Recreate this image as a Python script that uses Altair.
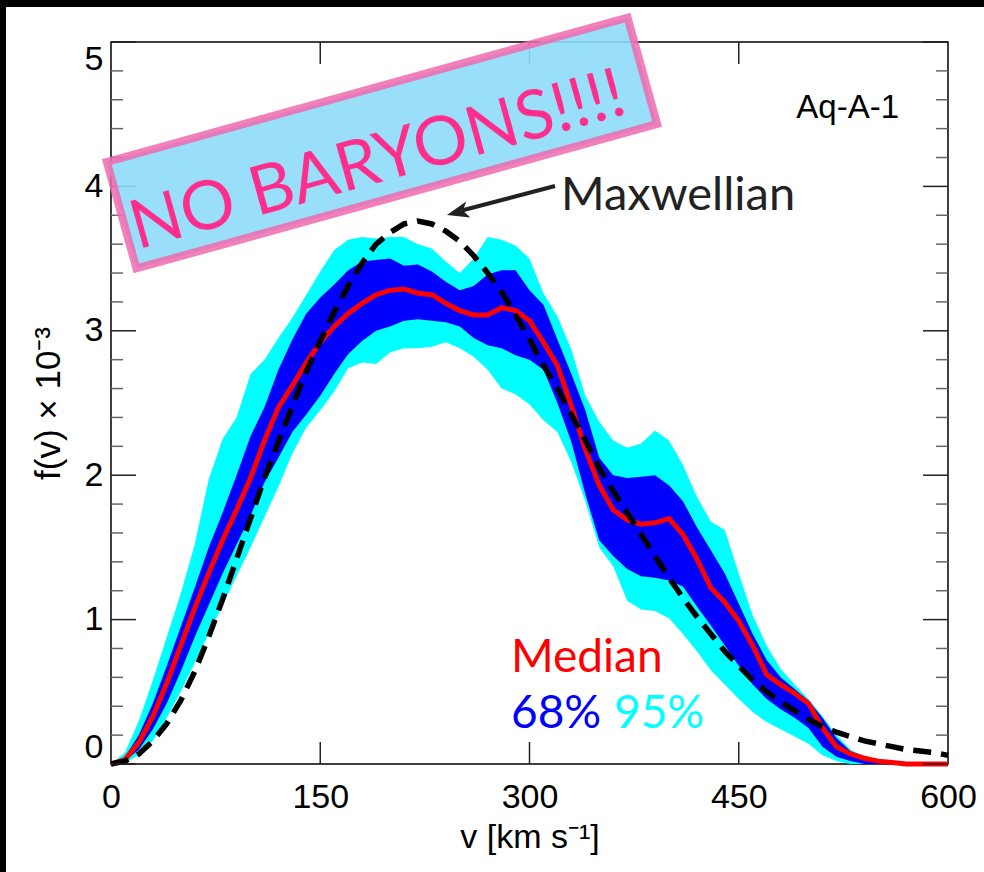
import altair as alt
import pandas as pd

# ---------------- data ----------------
V = [0, 10, 20, 30, 40, 50, 60, 70, 80, 90, 100, 110, 120, 130, 140, 150, 160, 170, 180, 190,
     200, 210, 220, 230, 240, 250, 260, 270, 280, 290, 300, 310, 320, 330, 340, 350, 360, 370, 380, 390,
     400, 410, 420, 430, 440, 450, 460, 470, 480, 490, 500, 510, 520, 530, 540, 550, 560, 570, 580, 590, 600]

CYAN_HI = [0, 0.08, 0.30, 0.58, 0.88, 1.18, 1.52, 1.97, 2.25, 2.40, 2.70, 2.80, 2.95, 3.09, 3.25, 3.41, 3.56, 3.63, 3.65, 3.64,
           3.65, 3.65, 3.60, 3.57, 3.48, 3.40, 3.50, 3.65, 3.63, 3.59, 3.50, 3.26, 3.10, 2.87, 2.55, 2.37, 2.24, 2.19, 2.22, 2.31,
           2.24, 2.07, 1.85, 1.68, 1.62, 1.32, 1.03, 0.82, 0.66, 0.55, 0.45, 0.33, 0.20, 0.10, 0.05, 0.02, 0, 0, 0, 0, 0]
BLUE_HI = [0, 0.05, 0.20, 0.42, 0.68, 0.95, 1.22, 1.50, 1.74, 2.00, 2.27, 2.47, 2.73, 2.94, 3.12, 3.23, 3.32, 3.42, 3.48, 3.49,
           3.50, 3.45, 3.46, 3.41, 3.34, 3.28, 3.31, 3.39, 3.42, 3.42, 3.28, 3.18, 2.94, 2.70, 2.45, 2.12, 2.00, 1.98, 1.99, 2.00,
           1.93, 1.82, 1.64, 1.48, 1.32, 1.11, 0.90, 0.72, 0.60, 0.52, 0.44, 0.32, 0.18, 0.09, 0.05, 0.01, 0, 0, 0, 0, 0]
MEDIAN = [0, 0.03, 0.15, 0.33, 0.56, 0.82, 1.08, 1.32, 1.55, 1.76, 1.98, 2.24, 2.47, 2.62, 2.78, 2.92, 3.03, 3.12, 3.19, 3.25,
          3.28, 3.29, 3.26, 3.25, 3.19, 3.14, 3.11, 3.11, 3.16, 3.14, 3.07, 2.92, 2.76, 2.48, 2.18, 1.93, 1.76, 1.69, 1.66, 1.67,
          1.70, 1.59, 1.42, 1.22, 1.12, 0.99, 0.82, 0.62, 0.55, 0.49, 0.42, 0.25, 0.12, 0.07, 0.04, 0.02, 0.01, 0, 0, 0, 0]
BLUE_LO = [0, 0.02, 0.10, 0.24, 0.42, 0.64, 0.88, 1.10, 1.32, 1.52, 1.72, 1.95, 2.12, 2.30, 2.42, 2.55, 2.70, 2.84, 2.93, 3.00,
           3.03, 3.07, 3.08, 3.07, 3.06, 3.03, 2.95, 2.90, 2.88, 2.83, 2.80, 2.73, 2.50, 2.23, 1.87, 1.55, 1.44, 1.35, 1.30, 1.29,
           1.27, 1.23, 1.09, 0.96, 0.82, 0.68, 0.55, 0.45, 0.38, 0.32, 0.25, 0.12, 0.05, 0.02, 0, 0, 0, 0, 0, 0, 0]
CYAN_LO = [0, 0.01, 0.06, 0.16, 0.32, 0.50, 0.70, 0.90, 1.10, 1.30, 1.50, 1.71, 1.92, 2.15, 2.33, 2.45, 2.58, 2.74, 2.78, 2.77,
           2.85, 2.88, 2.88, 2.89, 2.92, 2.88, 2.82, 2.73, 2.60, 2.56, 2.49, 2.38, 2.30, 2.09, 1.82, 1.50, 1.37, 1.13, 1.07, 1.06,
           1.01, 0.90, 0.78, 0.65, 0.55, 0.45, 0.36, 0.29, 0.24, 0.19, 0.14, 0.06, 0.02, 0, 0, 0, 0, 0, 0, 0, 0]
MAXWELL = [0, 0.02, 0.07, 0.16, 0.28, 0.44, 0.64, 0.88, 1.14, 1.42, 1.70, 1.98, 2.23, 2.48, 2.72, 2.93, 3.13, 3.31, 3.47, 3.60,
           3.68, 3.74, 3.76, 3.74, 3.69, 3.62, 3.52, 3.40, 3.27, 3.11, 2.94, 2.76, 2.60, 2.42, 2.24, 2.05, 1.89, 1.74, 1.59, 1.44,
           1.29, 1.15, 1.02, 0.90, 0.78, 0.68, 0.58, 0.50, 0.43, 0.37, 0.31, 0.26, 0.22, 0.19, 0.16, 0.14, 0.12, 0.10, 0.09, 0.08, 0.06]

X_TICKS = [0, 150, 300, 450, 600]
X_INNER_TICKS = [150, 300, 450]
Y_TICKS = [0, 1, 2, 3, 4, 5]
Y_MINOR = [0.2, 0.4, 0.6, 0.8, 1.2, 1.4, 1.6, 1.8, 2.2, 2.4, 2.6, 2.8, 3.2, 3.4, 3.6, 3.8, 4.2, 4.4, 4.6, 4.8]

# ---------------- layout ----------------
W, H = 837, 722
SANS = "Liberation Sans, Arial, Helvetica"
GILL = "Lato, Open Sans, sans-serif"

df = pd.DataFrame({"v": V, "c_hi": CYAN_HI, "b_hi": BLUE_HI, "med": MEDIAN,
                   "b_lo": BLUE_LO, "c_lo": CYAN_LO, "maxw": MAXWELL})
one = pd.DataFrame({"a": [0]})

xs = alt.Scale(domain=[0, 600], nice=False, zero=False)
ys = alt.Scale(domain=[0, 5], nice=False)

X_AXIS = alt.Axis(values=X_TICKS, format="d", ticks=False, domain=False, grid=False,
                  labelFont=SANS, labelFontSize=34, labelColor="black", labelPadding=16,
                  labelFlush=False, zindex=1,
                  title="v [km s⁻¹]", titleFont=SANS, titleFontSize=34,
                  titleFontWeight="normal", titleColor="black", titlePadding=6)
Y_AXIS = alt.Axis(values=Y_TICKS, format="d", ticks=False, domain=False, grid=False,
                  labelFont=SANS, labelFontSize=34, labelColor="black", labelPadding=8,
                  labelFlush=True, zindex=1,
                  title="f(v) × 10⁻³", titleFont=SANS, titleFontSize=35,
                  titleFontWeight="normal", titleColor="black", titlePadding=18)

def X(field):
    return alt.X(field, type="quantitative", scale=xs, axis=X_AXIS)

def Y(field):
    return alt.Y(field, type="quantitative", scale=ys, axis=Y_AXIS)

base = alt.Chart(df)

cyan = base.mark_area(color="#00ffff").encode(x=X("v"), y=Y("c_lo"), y2="c_hi:Q")
blue = base.mark_area(color="#0000ff").encode(x=X("v"), y=Y("b_lo"), y2="b_hi:Q")
median = base.mark_line(color="#ff0000", strokeWidth=5).encode(x=X("v"), y=Y("med"))
maxw = base.mark_line(color="black", strokeWidth=5.5, strokeDash=[18, 10]).encode(x=X("v"), y=Y("maxw"))

# ---------------- inward ticks on all four sides ----------------
ymaj = pd.DataFrame({"t": Y_TICKS})
ymin = pd.DataFrame({"t": Y_MINOR})
xin = pd.DataFrame({"t": X_INNER_TICKS})

def yticks(data, length, color, right=False):
    x0, x1 = (W - length, W) if right else (0, length)
    return alt.Chart(data).mark_rule(color=color, strokeWidth=1.5).encode(
        y=Y("t"), x=alt.value(x0), x2=alt.value(x1))

def xticks(data, length, top=False):
    y0, y1 = (0, length) if top else (H - length, H)
    return alt.Chart(data).mark_rule(color="#222222", strokeWidth=1.5).encode(
        x=X("t"), y=alt.value(y0), y2=alt.value(y1))

ticks = [yticks(ymaj, 25, "#222222"), yticks(ymin, 12, "#666666"),
         yticks(ymaj, 25, "#222222", True), yticks(ymin, 12, "#666666", True),
         xticks(xin, 22), xticks(xin, 22, True)]

# ---------------- black frame strips (top / left) ----------------
strip_top = alt.Chart(one).mark_rect(color="black").encode(
    x=alt.value(-111), x2=alt.value(W + 36), y=alt.value(-42), y2=alt.value(-35))
strip_left = alt.Chart(one).mark_rect(color="black").encode(
    x=alt.value(-111), x2=alt.value(-105), y=alt.value(-42), y2=alt.value(H + 108))

# ---------------- annotations ----------------
aq = alt.Chart(one).mark_text(text="Aq-A-1", font=SANS, fontSize=33, color="black",
                              align="right", baseline="alphabetic").encode(
    x=alt.value(788), y=alt.value(76))

maxw_label = alt.Chart(one).mark_text(text="Maxwellian", font=GILL, fontSize=47, color="#222222",
                                      align="left", baseline="alphabetic").encode(
    x=alt.value(450), y=alt.value(168))
arrow_line = alt.Chart(one).mark_rule(color="#222222", strokeWidth=4).encode(
    x=alt.value(444), y=alt.value(144), x2=alt.value(345), y2=alt.value(170))
arrow_head = alt.Chart(one).mark_point(
    shape="M1,0 L-1,-0.75 L-0.5,0 L-1,0.75 Z", size=484, angle=165.3,
    filled=True, fill="#222222", opacity=1, strokeWidth=0).encode(
    x=alt.value(346.6), y=alt.value(170.2))

box = alt.Chart(one).mark_point(
    shape="M-1,-0.2045 L1,-0.2045 L1,0.2045 L-1,0.2045 Z", size=292000, angle=344.5,
    filled=True, fill="#8edbf8", fillOpacity=0.9, stroke="#f06aae", strokeOpacity=0.85,
    strokeWidth=8, opacity=1).encode(x=alt.value(271), y=alt.value(101))
box_text = alt.Chart(one).mark_text(text="NO BARYONS!!!!", font=GILL, fontSize=68, color="#ff2d8c",
                                    angle=344.5, align="center", baseline="middle").encode(
    x=alt.value(267), y=alt.value(120))

med_label = alt.Chart(one).mark_text(text="Median", font=GILL, fontSize=46, color="#ff0000",
                                     align="left", baseline="alphabetic").encode(
    x=alt.value(400), y=alt.value(630))
p68 = alt.Chart(one).mark_text(text="68%", font=GILL, fontSize=46, color="#0000ff",
                               align="left", baseline="alphabetic").encode(
    x=alt.value(400), y=alt.value(686))
p95 = alt.Chart(one).mark_text(text="95%", font=GILL, fontSize=46, color="#00ffff",
                               align="left", baseline="alphabetic").encode(
    x=alt.value(503), y=alt.value(686))

chart = alt.layer(
    cyan, blue, median, maxw, *ticks, strip_top, strip_left,
    aq, box, box_text, arrow_line, arrow_head, maxw_label, med_label, p68, p95
).properties(
    width=W, height=H,
    autosize=alt.AutoSizeParams(type="none"),
    padding={"left": 111, "top": 42, "right": 36, "bottom": 108},
    background="white",
).configure_view(stroke="black", strokeWidth=1.5)

chart.save("out.html", embed_options={"renderer": "svg", "actions": False})
